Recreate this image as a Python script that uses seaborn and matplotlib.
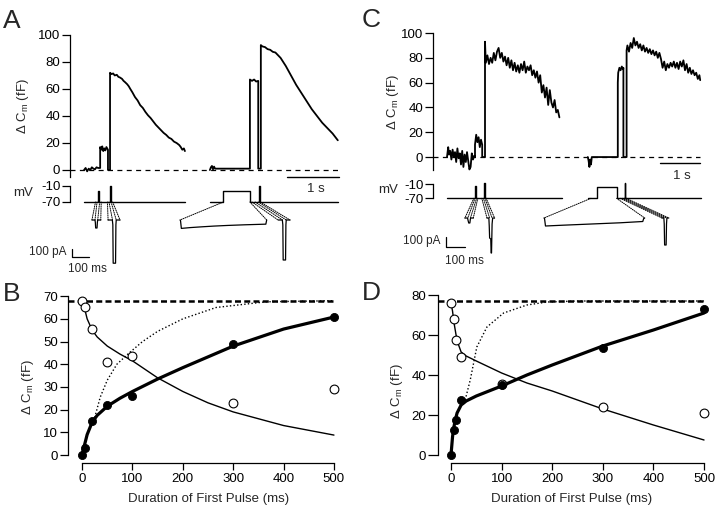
import matplotlib
matplotlib.use("Agg")
import matplotlib.pyplot as plt
import seaborn as sns
from matplotlib.patches import ConnectionPatch

# ====================== DATA ======================
# ---- Panel B (duration of first pulse, ms / delta Cm, fF)
b_dur = [0, 5, 20, 50, 100, 300, 500]
b_closed = [0, 3, 15, 22, 26, 49, 61]
b_open = [68, 65, 55.5, 41, 43.5, 23, 29]
b_thick_x = [0, 3, 6, 10, 20, 30, 50, 75, 100, 150, 200, 300, 400, 500]
b_thick_y = [0, 3, 5.5, 9, 14.5, 17.5, 21.5, 25, 28, 33.5, 38.5, 48, 55.5, 60.8]
b_thin_x = [0, 5, 10, 20, 30, 50, 75, 100, 150, 200, 250, 300, 400, 500]
b_thin_y = [68, 64.5, 60, 55, 52, 48, 44.5, 41.5, 34, 28, 23, 19, 13, 8.8]
b_dot_x = [25, 36, 50, 69, 92, 120, 150, 200, 266, 365, 500]
b_dot_y = [16.5, 25.5, 33, 40, 44.7, 50, 54.5, 60, 65, 67.5, 68]
b_max = 68

# ---- Panel D
d_dur = [0, 5, 10, 20, 100, 300, 500]
d_closed = [0, 12.5, 17.5, 27.5, 35, 53.5, 73]
d_open = [76, 68, 57.5, 49, 35.5, 24, 21]
d_thick_x = [0, 3, 5, 8, 12, 20, 30, 50, 100, 150, 200, 300, 400, 500]
d_thick_y = [0, 9, 13, 17, 21, 25, 27, 29.5, 34.5, 40, 45, 54.5, 62.5, 71]
d_thin_x = [0, 3, 6, 10, 15, 20, 30, 50, 100, 150, 200, 300, 400, 500]
d_thin_y = [76, 72, 66, 60, 55, 51.5, 49.5, 47, 41, 36, 32, 23, 15, 7.5]
d_dot_x = [28, 38, 51, 71, 104, 150, 190, 250, 350, 500]
d_dot_y = [27.5, 37.5, 54, 64, 71, 75, 76.5, 77, 77, 77]
d_max = 77

# ---- Panel A capacitance sweeps (time s / delta Cm fF)
a1_t = [0.27, 0.30, 0.33, 0.36, 0.39, 0.42, 0.45, 0.48, 0.51, 0.54, 0.58,
        0.58, 0.60, 0.62, 0.64, 0.66, 0.68, 0.70, 0.73, 0.73, 0.77,
        0.77, 0.80, 0.83, 0.86, 0.90, 0.93, 0.96, 1.00, 1.03, 1.06,
        1.10, 1.13, 1.16, 1.20, 1.25, 1.30, 1.35, 1.40, 1.45, 1.50,
        1.55, 1.60, 1.65, 1.70, 1.75, 1.80, 1.85, 1.90, 1.95, 2.00,
        2.05, 2.10, 2.13, 2.16, 2.19, 2.21]
a1_cm = [0, 1.5, -1, 1, 0, 2, 1, 0.5, 2, 1.5, 1.5,
         17, 15, 17.5, 14, 16, 14.5, 17, 15, 0, 0,
         72, 71, 71.5, 70, 70.5, 69, 68.5, 67.5, 66, 65,
         63.5, 62, 60, 57.5, 54, 51.5, 48, 46, 43, 40.5,
         38.5, 36, 33.5, 31.5, 29.5, 27.5, 26, 24, 23, 21,
         20, 18.5, 17, 15, 16, 14]
a2_t = [2.69, 2.71, 2.73, 2.75, 2.77, 2.79, 3.46,
        3.46, 3.50, 3.54, 3.58, 3.62, 3.62, 3.67,
        3.67, 3.70, 3.75, 3.80, 3.85, 3.90, 3.95, 4.00, 4.05, 4.10,
        4.15, 4.20, 4.25, 4.30, 4.35, 4.40, 4.45, 4.50, 4.55, 4.60,
        4.65, 4.70, 4.75, 4.80, 4.85, 4.90, 4.95, 5.00, 5.05, 5.10, 5.15]
a2_cm = [0, 2, 3, 0.5, 2.5, 1, 1,
         67, 66, 67, 65.5, 66, 1, 1,
         92.5, 91.5, 91, 89.5, 89, 87.5, 87, 85, 83, 80,
         77, 73.5, 70, 66.5, 63, 60, 57, 54, 51, 48,
         45, 42.5, 40, 37.5, 35, 33, 31, 29, 27, 24.5, 22]
a_zero_end = 5.15

# ---- Panel A voltage protocols (time s / mV)
a1_vt = [0.27, 0.54, 0.54, 0.555, 0.555, 0.77, 0.77, 0.785, 0.785, 2.21]
a1_mv = [-70, -70, -30, -30, -70, -70, -10, -10, -70, -70]
a2_vt = [2.69, 2.95, 2.95, 3.46, 3.46, 3.64, 3.64, 3.655, 3.655, 5.15]
a2_mv = [-70, -70, -28, -28, -70, -70, -10, -10, -70, -70]

# ---- Panel A currents (ms from trace start / pA)
a_short_ms = [0, 18, 20, 22, 30, 32, 34, 52]
a_short_pa = [0, 0, -30, -100, -100, -30, 0, 0]
a_tail1_ms = [0, 25, 28, 30, 44, 46, 48, 70]
a_tail1_pa = [0, 0, -60, -540, -540, -60, 0, 0]
a_long_ms = [0, 3, 8, 60, 130, 200, 280, 380, 505, 510]
a_long_pa = [0, -5, -105, -95, -85, -76, -68, -60, -52, 0]
a_tail2_ms = [0, 25, 28, 30, 44, 46, 48, 70]
a_tail2_pa = [0, 0, -60, -500, -500, -60, 0, 0]

# ---- Panel C capacitance sweeps
c1_t = [0.35, 0.38, 0.40, 0.43, 0.46, 0.49, 0.52, 0.55, 0.58, 0.61, 0.64, 0.67,
        0.70, 0.73, 0.76, 0.79, 0.82, 0.85, 0.88, 0.91, 0.94, 0.97, 1.00, 1.03, 1.05,
        1.05, 1.08, 1.11, 1.14, 1.17, 1.20, 1.23, 1.23, 1.30,
        1.30, 1.32, 1.36, 1.40, 1.44, 1.48, 1.52, 1.56, 1.60, 1.64, 1.68,
        1.72, 1.76, 1.80, 1.84, 1.88, 1.92, 1.96, 2.00, 2.04, 2.08,
        2.12, 2.16, 2.20, 2.24, 2.28, 2.32, 2.36, 2.40, 2.44, 2.48,
        2.52, 2.56, 2.60, 2.64, 2.68, 2.72, 2.76, 2.80, 2.84, 2.88,
        2.92, 2.96, 3.00, 3.04, 3.08, 3.12, 3.16]
c1_cm = [0, 8, 2, 5, -2, 6, 0, 4, -4, 7, -1, 3,
         -6, 5, -8, 2, -4, 4, -3, -10, -8, 3, -2, 1, 0,
         10, 18, 12, 16, 8, 14, 10, 0, 0,
         93, 76, 82, 75, 80, 76, 84, 78, 85, 88, 80,
         84, 77, 81, 74, 80, 72, 78, 70, 76, 69,
         74, 68, 75, 70, 77, 68, 73, 70, 74, 66,
         70, 64, 69, 60, 66, 52, 58, 48, 56, 42,
         54, 44, 40, 46, 36, 38, 32]
c2_t = [3.87, 3.89, 3.91, 3.93, 3.95, 3.97, 4.62,
        4.62, 4.63, 4.66, 4.69, 4.72, 4.75, 4.76, 4.76, 4.84,
        4.84, 4.86, 4.90, 4.94, 4.98, 5.02, 5.06, 5.10, 5.14, 5.18, 5.22,
        5.26, 5.30, 5.34, 5.38, 5.42, 5.46, 5.50, 5.54, 5.58, 5.62,
        5.66, 5.70, 5.74, 5.78, 5.82, 5.86, 5.90, 5.94, 5.98, 6.02,
        6.06, 6.10, 6.14, 6.18, 6.22, 6.26, 6.30, 6.34, 6.38, 6.42,
        6.46, 6.50, 6.54, 6.58, 6.62, 6.66, 6.68]
c2_cm = [0, -3, -8, -2, -6, 0, 0,
         60, 68, 72, 70, 73, 71, 72, 0, 0,
         86, 90, 85, 92, 88, 96, 90, 93, 88, 91, 86,
         90, 85, 88, 84, 87, 83, 86, 82, 85, 80,
         84, 79, 72, 77, 70, 75, 72, 76, 73, 77,
         72, 76, 71, 77, 73, 78, 70, 75, 68, 72,
         67, 70, 66, 68, 63, 66, 62]
c_zero_end = 6.68

# ---- Panel C voltage protocols
c1_vt = [0.35, 1.06, 1.06, 1.08, 1.08, 1.27, 1.27, 1.29, 1.29, 3.23]
c1_mv = [-70, -70, -20, -20, -70, -70, -6, -6, -70, -70]
c2_vt = [3.87, 4.09, 4.09, 4.59, 4.59, 4.79, 4.79, 4.81, 4.81, 6.69]
c2_mv = [-70, -70, -21, -21, -70, -70, -6, -6, -70, -70]

# ---- Panel C currents
c_short_ms = [0, 14, 16, 20, 26, 28, 30, 44]
c_short_pa = [0, 0, -20, -50, -50, -20, 0, 0]
c_tail1_ms = [0, 10, 12, 14, 20, 22, 24, 27, 30, 40]
c_tail1_pa = [0, 0, -80, -200, -210, -350, -350, -60, 0, 0]
c_long_ms = [0, 3, 8, 100, 200, 300, 400, 520, 525, 530]
c_long_pa = [0, -5, -80, -72, -64, -56, -48, -35, -5, 0]
c_tail2_ms = [0, 10, 12, 14, 22, 24, 26, 36]
c_tail2_pa = [0, 0, -60, -270, -270, -60, 0, 0]

# ====================== STYLE ======================
sns.set_theme(style="ticks", rc={
    "axes.edgecolor": "black", "xtick.color": "black", "ytick.color": "black",
    "axes.linewidth": 0.9, "axes.facecolor": "white", "figure.facecolor": "white",
})
plt.rcParams["font.family"] = ["Liberation Sans", "DejaVu Sans"]
plt.rcParams["mathtext.default"] = "regular"

W, H = 720, 509
fig = plt.figure(figsize=(7.2, 5.09), dpi=100)


def add_ax(left, top, right, bottom):
    return fig.add_axes([left / W, 1 - bottom / H, (right - left) / W, (bottom - top) / H])


def ftext(x, y, s, **kw):
    return fig.text(x / W, 1 - y / H, s, **kw)


def line(ax, x, y, lw=1.0, ls="-", z=2):
    sns.lineplot(x=x, y=y, ax=ax, sort=False, estimator=None, color="black",
                 lw=lw, linestyle=ls, zorder=z, legend=False)


def only_left(ax):
    for s in ["top", "right", "bottom"]:
        ax.spines[s].set_visible(False)
    ax.set_xticks([])
    ax.set_xlabel("")
    ax.set_ylabel("")
    ax.patch.set_alpha(0)


YLAB = "Δ C$_\\mathregular{m}$ (fF)"
TFS = 9.5


def trace_panel(cm_box, cm_ylim, spine_lo, xlim, sweeps, zero_end, bar, v_box, v_ylim,
                protos, i_box, i_xlim, i_ylim, currents, cur_pos, ibar, ibar_txt,
                conns, ylen):
    ax = add_ax(*cm_box)
    for t, v in sweeps:
        line(ax, t, v, lw=1.3)
    line(ax, [0, zero_end], [0, 0], lw=0.9, ls=(0, (4, 3.5)))
    ax.set_xlim(*xlim)
    ax.set_ylim(*cm_ylim)
    only_left(ax)
    ax.spines["left"].set_bounds(spine_lo, 100)
    ax.set_yticks([0, 20, 40, 60, 80, 100])
    ax.tick_params(axis="y", length=ylen, width=0.9, pad=1.5, labelsize=TFS)
    (bx0, bx1, by, ty) = bar
    ax.plot([bx0, bx1], [by, by], color="black", lw=1.0, clip_on=False)
    ax.text((bx0 + bx1) / 2 + 0.05, ty, "1 s", ha="center", va="center", fontsize=TFS)

    axv = add_ax(*v_box)
    for t, v in protos:
        line(axv, t, v, lw=1.0)
    axv.set_xlim(*xlim)
    axv.set_ylim(*v_ylim)
    only_left(axv)
    axv.spines["left"].set_bounds(-70, -10)
    axv.set_yticks([-10, -70])
    axv.set_yticklabels(["-10", "-70"])
    axv.tick_params(axis="y", length=ylen, width=0.9, pad=1.5, labelsize=TFS)

    axi = add_ax(*i_box)
    for (ms, pa), x0 in zip(currents, cur_pos):
        line(axi, [m + x0 for m in ms], pa, lw=0.9)
    axi.set_xlim(*i_xlim)
    axi.set_ylim(*i_ylim)
    axi.axis("off")
    (sx0, sy_top, sy_bot, sx1) = ibar
    axi.plot([sx0, sx0, sx1], [sy_top, sy_bot, sy_bot], color="black", lw=0.9)
    (pa_x, pa_y, ms_x, ms_y) = ibar_txt
    axi.text(pa_x, pa_y, "100 pA", ha="right", va="center", fontsize=8.5)
    axi.text(ms_x, ms_y, "100 ms", ha="center", va="center", fontsize=8.5)

    for (tv, ti) in conns:
        con = ConnectionPatch(xyA=(tv, -70), coordsA=axv.transData,
                              xyB=(ti, 0), coordsB=axi.transData,
                              color="black", lw=0.7, linestyle=(0, (1, 1.2)))
        fig.add_artist(con)
    return ax, axv, axi


# Panel A
a_cur = [(a_short_ms, a_short_pa), (a_tail1_ms, a_tail1_pa),
         (a_long_ms, a_long_pa), (a_tail2_ms, a_tail2_pa)]
a_pos = [129, 224, 647, 1224]
a_conns = [(0.49, 129), (0.52, 129 + 18), (0.57, 129 + 34), (0.60, 129 + 52),
           (0.72, 224), (0.75, 224 + 26), (0.79, 224 + 48), (0.82, 224 + 70),
           (2.95, 647), (3.46, 647 + 510),
           (3.50, 1224), (3.56, 1224 + 26), (3.62, 1224 + 48), (3.66, 1224 + 70)]
trace_panel((70, 33.6, 345.6, 178.1), (-6, 101), -5, (0, 5.3),
            [(a1_t, a1_cm), (a2_t, a2_cm)], a_zero_end,
            (4.17, 5.17, -5.2, -14.2),
            (70, 180, 345.6, 206), (-85, 12.5), [(a1_vt, a1_mv), (a2_vt, a2_mv)],
            (70, 205, 345.6, 275), (0, 1621.2), (-687.5, 187.5), a_cur, a_pos,
            (12, -362.5, -462.5, 112), (-18, -400, 100, -612), a_conns, 5.5)

# Panel C
c_cur = [(c_short_ms, c_short_pa), (c_tail1_ms, c_tail1_pa),
         (c_long_ms, c_long_pa), (c_tail2_ms, c_tail2_pa)]
c_pos = [168, 284, 584, 1205]
c_conns = [(1.02, 168), (1.05, 168 + 15), (1.09, 168 + 29), (1.12, 168 + 44),
           (1.22, 284), (1.26, 284 + 14), (1.30, 284 + 27), (1.33, 284 + 40),
           (3.95, 584), (4.59, 584 + 530),
           (4.68, 1205), (4.73, 1205 + 12), (4.78, 1205 + 24), (4.83, 1205 + 36)]
trace_panel((433, 31.8, 709, 170.7), (-11, 101), -10.5, (0, 6.9),
            [(c1_t, c1_cm), (c2_t, c2_cm)], c_zero_end,
            (5.675, 6.675, -4.8, -15.3),
            (433, 178, 709, 203), (-89.7, 15.2), [(c1_vt, c1_mv), (c2_vt, c2_mv)],
            (433, 205, 709, 275), (0, 1452.6), (-570, 130), c_cur, c_pos,
            (68, -190, -290, 168), (37, -230, 166, -430), c_conns, 5.5)


def summary_panel(box, xlim, ylim, ytop, ystep, dur, closed, opn, thick, thin, dot, vmax, ylen):
    ax = add_ax(*box)
    line(ax, [xlim[0], 500], [vmax, vmax], lw=1.8, ls=(0, (2.4, 1.3)), z=2)
    line(ax, dot[0], dot[1], lw=1.0, ls=(0, (1, 1.6)), z=2)
    line(ax, thin[0], thin[1], lw=1.0, z=3)
    line(ax, thick[0], thick[1], lw=2.3, z=3)
    sns.scatterplot(x=dur, y=opn, ax=ax, s=40, color="white", edgecolor="black",
                    linewidth=0.8, zorder=5, legend=False, clip_on=False)
    sns.scatterplot(x=dur, y=closed, ax=ax, s=34, color="black", edgecolor="black",
                    linewidth=0.6, zorder=6, legend=False, clip_on=False)
    ax.set_xlim(*xlim)
    ax.set_ylim(*ylim)
    for s in ["top", "right"]:
        ax.spines[s].set_visible(False)
    ax.spines["left"].set_bounds(0, ytop)
    ax.spines["bottom"].set_bounds(0, 500)
    ax.set_xticks([0, 100, 200, 300, 400, 500])
    ax.set_yticks(list(range(0, ytop + 1, ystep)))
    ax.tick_params(axis="y", length=ylen, width=0.9, pad=1.5, labelsize=TFS)
    ax.tick_params(axis="x", length=5, width=0.9, pad=2.5, labelsize=TFS)
    ax.set_xlabel("")
    ax.set_ylabel("")
    ax.patch.set_alpha(0)
    return ax


summary_panel((68, 291.6, 340, 463), (-28, 512), (-3.5, 72), 70, 10,
              b_dur, b_closed, b_open, (b_thick_x, b_thick_y), (b_thin_x, b_thin_y),
              (b_dot_x, b_dot_y), b_max, 5.5)
summary_panel((438, 291, 710, 463), (-25.7, 511.8), (-4, 82), 80, 20,
              d_dur, d_closed, d_open, (d_thick_x, d_thick_y), (d_thin_x, d_thin_y),
              (d_dot_x, d_dot_y), d_max, 7)

# ---------------- texts ----------------
for (x, y) in [(23, 106), (28, 387), (393, 102), (397, 391)]:
    ftext(x, y, YLAB, rotation=90, ha="center", va="center", fontsize=TFS)
ftext(209, 502, "Duration of First Pulse (ms)", ha="center", va="baseline", fontsize=TFS)
ftext(572, 502, "Duration of First Pulse (ms)", ha="center", va="baseline", fontsize=TFS)
ftext(23, 193, "mV", ha="center", va="center", fontsize=TFS)
ftext(388, 190, "mV", ha="center", va="center", fontsize=TFS)
for (x, y, s) in [(3, 28, "A"), (3, 301, "B"), (362, 27, "C"), (362, 300, "D")]:
    ftext(x, y, s, ha="left", va="baseline", fontsize=19)

fig.savefig("out.png", dpi=100)
